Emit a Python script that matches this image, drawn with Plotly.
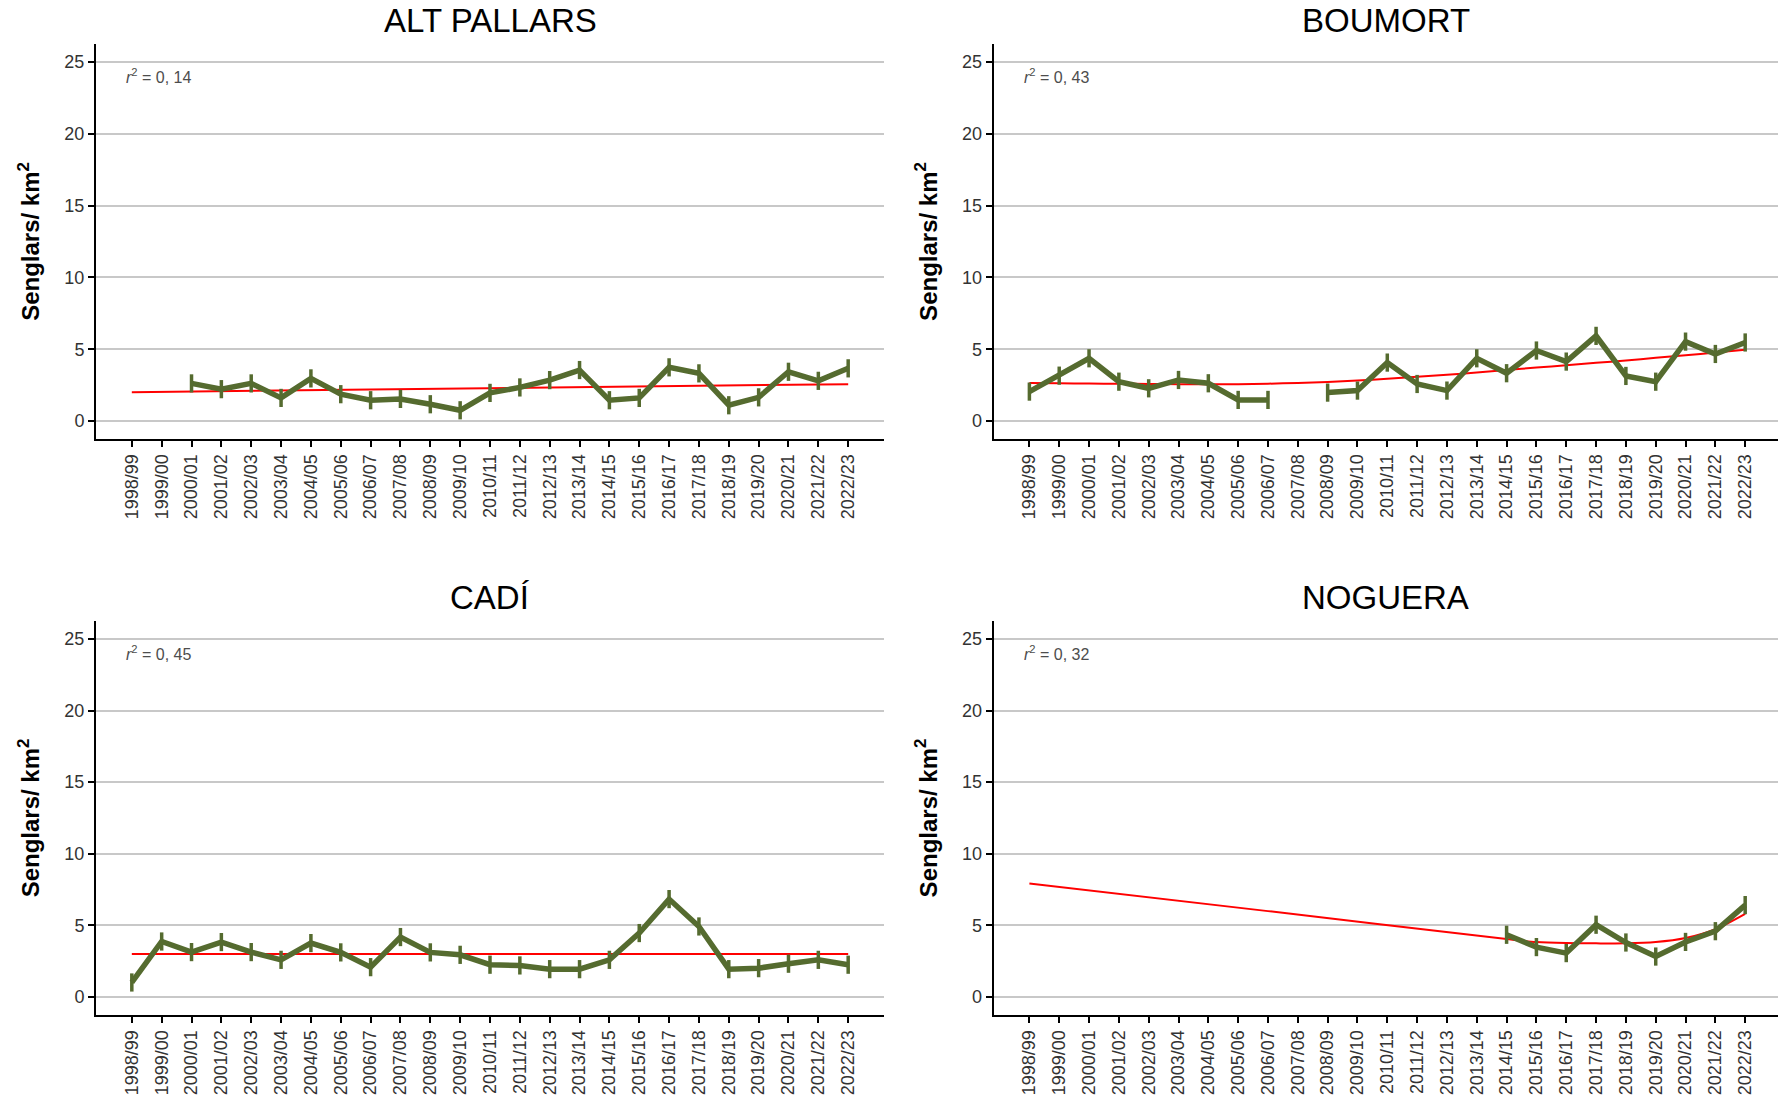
"""Wild boar density (senglars/km2) per hunting reserve, 1998/99 - 2022/23."""

from __future__ import annotations

import plotly.graph_objects as go
from plotly.subplots import make_subplots

SEASONS = [
    "1998/99", "1999/00", "2000/01", "2001/02", "2002/03", "2003/04", "2004/05",
    "2005/06", "2006/07", "2007/08", "2008/09", "2009/10", "2010/11", "2011/12",
    "2012/13", "2013/14", "2014/15", "2015/16", "2016/17", "2017/18", "2018/19",
    "2019/20", "2020/21", "2021/22", "2022/23",
]

RESERVES = ["ALT PALLARS", "BOUMORT", "CADÍ", "NOGUERA"]
R_SQUARED = ["0, 14", "0, 43", "0, 45", "0, 32"]

alt_pallars = [
    None, None, 2.62, 2.22, 2.62, 1.61, 2.97, 1.87, 1.45, 1.54, 1.17, 0.75, 1.96,
    2.34, 2.85, 3.55, 1.45, 1.61, 3.74, 3.32, 1.10, 1.65, 3.43, 2.80, 3.67,
]
boumort = [
    2.05, 3.16, 4.37, 2.74, 2.28, 2.86, 2.63, 1.47, 1.47, None, 1.98, 2.12, 4.07,
    2.58, 2.12, 4.37, 3.33, 4.91, 4.14, 5.93, 3.14, 2.74, 5.53, 4.67, 5.47,
]
cadi = [
    1.02, 3.88, 3.14, 3.84, 3.14, 2.60, 3.77, 3.12, 2.09, 4.19, 3.12, 2.95, 2.26,
    2.21, 1.95, 1.95, 2.60, 4.47, 6.84, 4.93, 1.95, 2.02, 2.33, 2.60, 2.26,
]
noguera = [
    None, None, None, None, None, None, None, None, None, None, None, None, None,
    None, None, None, 4.35, 3.49, 3.07, 5.05, 3.81, 2.83, 3.85, 4.60, 6.42,
]

# fitted trend (red): season -> value
alt_pallars_trend_x = ["1998/99", "2022/23"]
alt_pallars_trend = [2.01, 2.57]
boumort_trend_x = SEASONS
boumort_trend = [
    2.65, 2.63, 2.61, 2.60, 2.58, 2.57, 2.57, 2.57, 2.60, 2.65, 2.72, 2.82, 2.95,
    3.08, 3.22, 3.38, 3.55, 3.72, 3.88, 4.05, 4.22, 4.40, 4.58, 4.77, 4.96,
]
cadi_trend_x = ["1998/99", "2022/23"]
cadi_trend = [3.0, 3.0]
noguera_trend_x = [
    "1998/99", "2006/07", "2014/15", "2015/16", "2016/17", "2017/18", "2018/19",
    "2019/20", "2020/21", "2021/22", "2022/23",
]
noguera_trend = [7.93, 6.0, 4.05, 3.84, 3.77, 3.75, 3.75, 3.84, 4.12, 4.74, 5.81]

SERIES = [alt_pallars, boumort, cadi, noguera]
TRENDS = [
    (alt_pallars_trend_x, alt_pallars_trend),
    (boumort_trend_x, boumort_trend),
    (cadi_trend_x, cadi_trend),
    (noguera_trend_x, noguera_trend),
]

LINE_COLOR = "#556B2F"
TREND_COLOR = "#FF0000"
GRID_COLOR = "#C8C8C8"
FONT = "Liberation Sans, Arial, sans-serif"

W, H = 1778, 1102
# panel geometry in pixels (left, right, top, bottom)
PANELS = [
    (96, 884, 44, 439),
    (993.6, 1778, 44, 439),
    (96, 884, 621, 1015),
    (993.6, 1778, 621, 1015),
]
TITLE_Y = [20.5, 20.5, 598, 598]


fig = make_subplots(rows=2, cols=2)

for i, (name, values, (tx, ty)) in enumerate(zip(RESERVES, SERIES, TRENDS)):
    row, col = i // 2 + 1, i % 2 + 1
    fig.add_trace(
        go.Scatter(
            x=tx,
            y=ty,
            mode="lines",
            line={"color": TREND_COLOR, "width": 2, "shape": "spline", "smoothing": 0.8},
            showlegend=False,
            hoverinfo="skip",
        ),
        row=row,
        col=col,
    )
    fig.add_trace(
        go.Scatter(
            x=SEASONS,
            y=values,
            mode="lines+markers",
            name=name,
            line={"color": LINE_COLOR, "width": 5.5},
            marker={
                "symbol": "line-ns-open",
                "size": 13,
                "color": LINE_COLOR,
                "line": {"color": LINE_COLOR, "width": 3.5},
            },
            showlegend=False,
        ),
        row=row,
        col=col,
    )

for i, (l, r, t, b) in enumerate(PANELS):
    suffix = "" if i == 0 else str(i + 1)
    x_end = 25.2 if r < W else 25.1
    fig.layout["xaxis" + suffix].update(
        domain=[l / W, r / W],
        type="category",
        categoryorder="array",
        categoryarray=SEASONS,
        range=[-1.2, x_end],
        showgrid=False,
        zeroline=False,
        showline=True,
        linecolor="black",
        linewidth=2,
        ticks="outside",
        ticklen=6,
        tickwidth=2,
        tickcolor="black",
        tickangle=-90,
        tickfont={"size": 18, "color": "#333333", "family": FONT},
    )
    fig.layout["yaxis" + suffix].update(
        domain=[1 - b / H, 1 - t / H],
        range=[-1.25, 26.25],
        tickvals=[0, 5, 10, 15, 20, 25],
        showgrid=True,
        gridcolor=GRID_COLOR,
        gridwidth=2,
        zeroline=False,
        showline=True,
        linecolor="black",
        linewidth=2,
        ticks="outside",
        ticklen=6,
        tickwidth=2,
        tickcolor="black",
        tickfont={"size": 18, "color": "#333333", "family": FONT},
        title={
            "text": "Senglars/ km<sup>2</sup>",
            "font": {"size": 24, "color": "black", "family": FONT, "weight": "bold"},
            "standoff": 18,
        },
    )
    fig.add_annotation(
        text=RESERVES[i],
        x=(l + r) / 2 / W,
        y=1 - TITLE_Y[i] / H,
        xref="paper",
        yref="paper",
        xanchor="center",
        yanchor="middle",
        showarrow=False,
        font={"size": 33, "color": "black", "family": FONT},
    )
    fig.add_annotation(
        text=f"<i>r</i><sup>2</sup> = {R_SQUARED[i]}",
        x=-0.25,
        y=24.0,
        xref="x" + suffix,
        yref="y" + suffix,
        xanchor="left",
        yanchor="middle",
        showarrow=False,
        font={"size": 16, "color": "#4D4D4D", "family": FONT},
    )

fig.update_layout(
    width=W,
    height=H,
    margin={"l": 0, "r": 0, "t": 0, "b": 0},
    paper_bgcolor="white",
    plot_bgcolor="white",
    font={"family": FONT, "color": "black"},
)

# drop the browser's default 8px body margin so the figure sits at the page origin
fig.write_html(
    "out.html",
    config={"displayModeBar": False},
    post_script="document.body.style.margin = '0px';",
)
